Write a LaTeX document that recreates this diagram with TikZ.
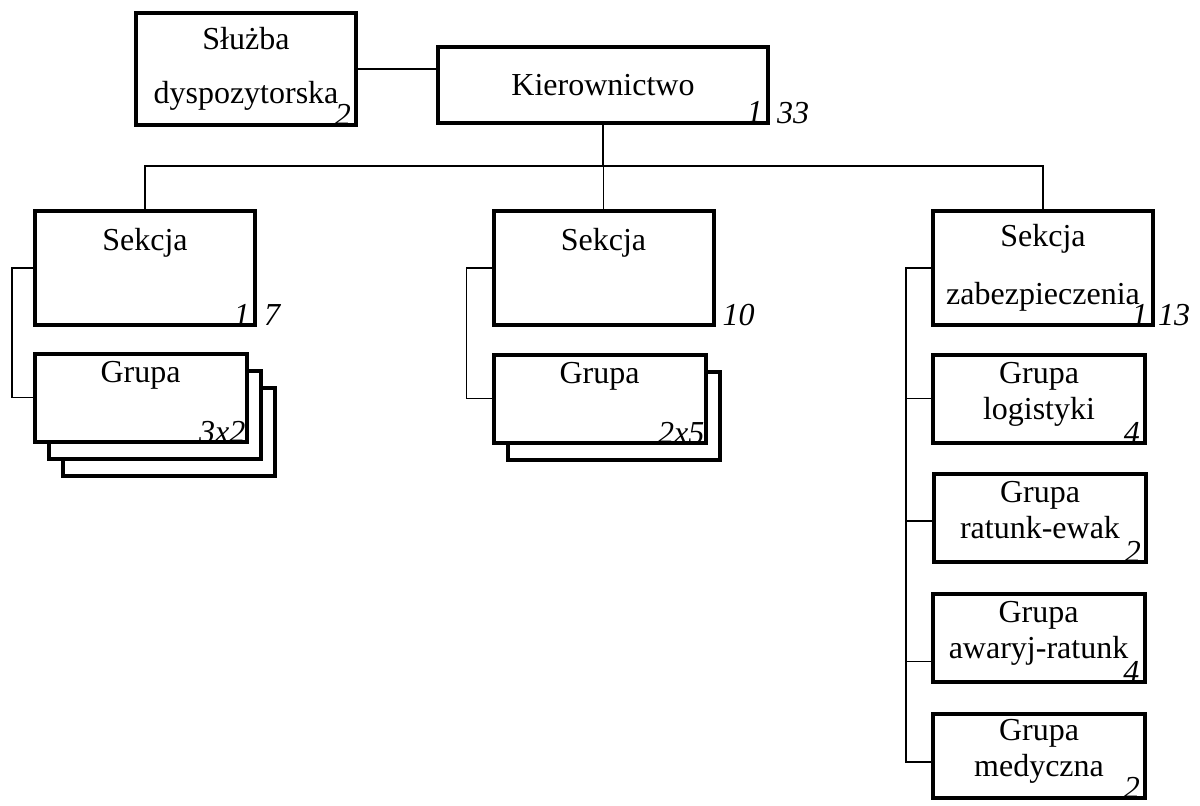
\documentclass[tikz,border=0pt]{standalone}
\usepackage{fontspec}
\setmainfont{Liberation Serif}
\usepackage{tikz}
\newcommand{\padlow}{\rule[-6pt]{0pt}{0pt}}

\begin{document}
\begin{tikzpicture}[
  x=0.375pt, y=-0.375pt,
  block/.style={draw,line width=1.5pt,fill=white,align=center,inner sep=0pt,
    minimum width=82.5pt,minimum height=42.75pt,font=\fontsize{12}{21.75}\selectfont},
  grp/.style={block,minimum width=79.5pt,minimum height=33pt,font=\fontsize{12}{13.5}\selectfont},
  num/.style={inner sep=2.5pt,font=\fontsize{12}{14}\selectfont\itshape},
  numin/.style={num,anchor=base east,yshift=0.5pt},
  numout/.style={num,anchor=base west,yshift=0.5pt},
  link/.style={line width=0.7pt}]

  \useasboundingbox (0,0) rectangle (1200,805);

  % Top level
  \node[block,minimum height=42pt,font=\fontsize{12}{20}\selectfont] (SD) at (246,69) {Służba\\dyspozytorska};
  \node[block,minimum width=123.75pt,minimum height=28.5pt] (K) at (603,85) {Kierownictwo};

  % Sections
  \node[block] (S1) at (145,268) {Sekcja\\\mbox{}};
  \node[block] (S2) at (603.5,268) {Sekcja\\\mbox{}};
  \node[block] (S3) at (1043,268) {Sekcja\\zabezpieczenia};

  % Groups (stacked copies behind)
  \node[grp] (G1c) at (168.5,431.5) {};
  \node[grp] (G1b) at (154.5,414.5) {};
  \node[grp] (G1) at (140.5,397.5) {Grupa\\\mbox{}\padlow};
  \node[grp] (G2b) at (613.5,415.5) {};
  \node[grp] (G2) at (599.5,398.5) {Grupa\\\mbox{}\padlow};
  \node[grp] (GL) at (1039,398.5) {Grupa\\logistyki\padlow};
  \node[grp] (GRE) at (1040,518) {Grupa\\ratunk-ewak\padlow};
  \node[grp] (GAR) at (1038.5,637.5) {Grupa\\awaryj-ratunk\padlow};
  \node[grp,minimum height=31.5pt] (GM) at (1039,756) {Grupa\\medyczna\padlow};

  % Head counts
  \node[numin] (SDn) at (SD.south east) {2};
  \node[numin,yshift=0.6pt] (Kn) at (K.south east) {1};
  \node[numout] (Kt) at (K.south east) {33};
  \node[numin] (S1n) at (S1.south east) {1};
  \node[numout] (S1t) at (S1.south east) {7};
  \node[numout] (S2t) at (S2.south east) {10};
  \node[numin] (S3n) at (S3.south east) {1};
  \node[numout,xshift=-1.5pt] (S3t) at (S3.south east) {13};
  \node[numin,inner sep=1pt] (G1n) at (G1.south east) {3x2};
  \node[numin,inner sep=1pt] (G2n) at (G2.south east) {2x5};
  \node[numin] (GLn) at (GL.south east) {4};
  \node[numin] (GREn) at (GRE.south east) {2};
  \node[numin] (GARn) at (GAR.south east) {4};
  \node[numin] (GMn) at (GM.south east) {2};

  % Connections
  \coordinate (bus) at (603,166);
  \draw[link] (SD.east) -- (SD.east -| K.west);
  \draw[link] (K.south) -- (K.south |- bus);
  \draw[link] (S1.north) -- (S1.north |- bus) -- (S3.north |- bus) -- (S3.north);
  \draw[link] (S2.north) -- (S2.north |- bus);
  \draw[link] (S1.west) -- ++(-21,0) |- (G1.west);
  \draw[link] (S2.west) -- ++(-25,0) |- (G2.west);
  \draw[link] (S3.west) -- ++(-25,0) |- ([yshift=-2.25pt]GM.west);
  \foreach \g/\dy in {GL/0pt,GRE/-1pt,GAR/-9pt}
    \draw[link] ([yshift=\dy]\g.west) -- ++(-25,0);
\end{tikzpicture}
\end{document}
